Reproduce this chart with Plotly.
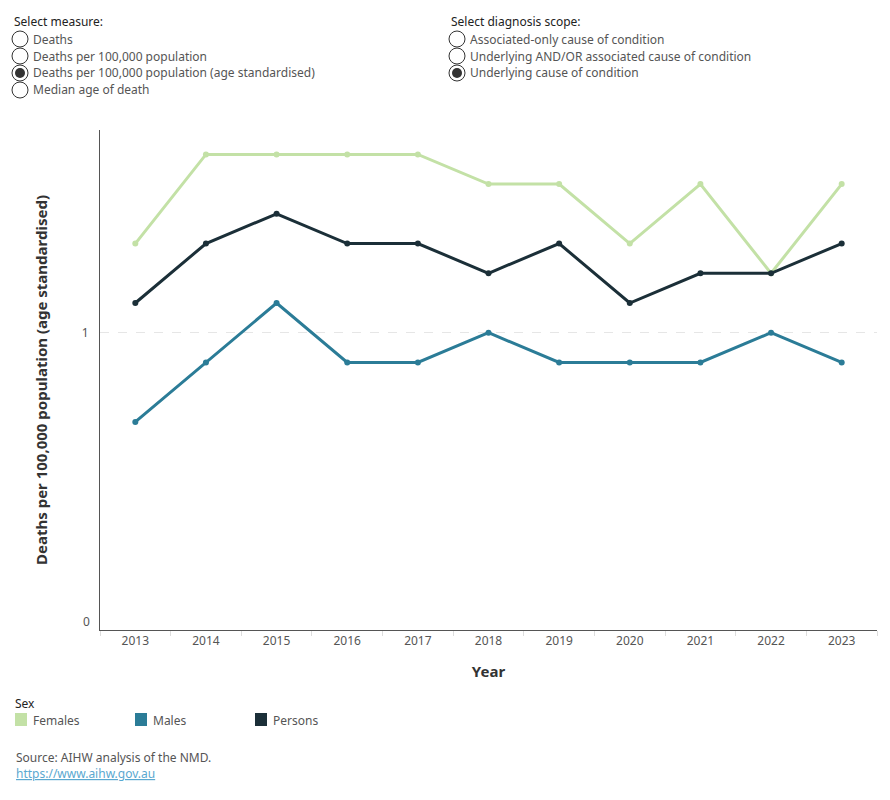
import plotly.graph_objects as go

years = [2013, 2014, 2015, 2016, 2017, 2018, 2019, 2020, 2021, 2022, 2023]
females = [1.3, 1.6, 1.6, 1.6, 1.6, 1.5, 1.5, 1.3, 1.5, 1.2, 1.5]
males = [0.7, 0.9, 1.1, 0.9, 0.9, 1.0, 0.9, 0.9, 0.9, 1.0, 0.9]
persons = [1.1, 1.3, 1.4, 1.3, 1.3, 1.2, 1.3, 1.1, 1.2, 1.2, 1.3]
series_names = ["Females", "Males", "Persons"]
series_colors = ["#c3e1a6", "#2b7c97", "#1b2f38"]
measure_options = ["Deaths", "Deaths per 100,000 population",
                   "Deaths per 100,000 population (age standardised)", "Median age of death"]
scope_options = ["Associated-only cause of condition",
                 "Underlying AND/OR associated cause of condition",
                 "Underlying cause of condition"]

W, H = 890, 800
L, R, T, B = 100, 877, 130, 630
FONT = "Noto Sans"

def px(x):
    return (x - L) / (R - L)

def py(y):
    return (B - y) / (B - T)

fig = go.Figure()
for name, vals, col in zip(series_names, [females, males, persons], series_colors):
    fig.add_trace(go.Scatter(x=years, y=vals, mode="lines+markers", name=name,
                             line=dict(color=col, width=3),
                             marker=dict(color=col, size=6), showlegend=False))

shapes = []
annotations = []

def text(x, y, s, size=12, color="#555", bold=False, xanchor="left"):
    annotations.append(dict(x=px(x), y=py(y), xref="paper", yref="paper", text=(f"<b>{s}</b>" if bold else s),
                            showarrow=False, xanchor=xanchor, yanchor="middle",
                            font=dict(family=FONT, size=size, color=color)))

def radio(cx, cy, selected):
    r = 8
    shapes.append(dict(type="circle", xref="paper", yref="paper",
                       x0=px(cx - r), x1=px(cx + r), y0=py(cy + r), y1=py(cy - r),
                       line=dict(color="#333", width=1), fillcolor="white"))
    if selected:
        r2 = 5
        shapes.append(dict(type="circle", xref="paper", yref="paper",
                           x0=px(cx - r2), x1=px(cx + r2), y0=py(cy + r2), y1=py(cy - r2),
                           line=dict(color="#333", width=0), fillcolor="#333"))

text(12, 21, "Select measure:", color="#222")
for i, opt in enumerate(measure_options):
    y = 39 + i * 17
    radio(20, y, i == 2)
    text(31, y, opt)

text(449, 21, "Select diagnosis scope:", color="#222")
for i, opt in enumerate(scope_options):
    y = 39 + i * 17
    radio(457, y, i == 2)
    text(468, y, opt)

# y-axis "0" label (Tableau nudges the edge label up inside the pane)
text(92, 621, "0", xanchor="right")

# legend
text(13, 703, "Sex", color="#222")
for i, (name, col) in enumerate(zip(series_names, series_colors)):
    x0 = 15 + i * 120
    shapes.append(dict(type="rect", xref="paper", yref="paper",
                       x0=px(x0), x1=px(x0 + 12), y0=py(726), y1=py(713),
                       line=dict(width=0), fillcolor=col))
    text(x0 + 16, 720, name)

text(14, 757, "Source: AIHW analysis of the NMD.")
text(14, 773, "<u>https://www.aihw.gov.au</u>", color="#5aa8d0")

fig.update_layout(
    width=W, height=H, margin=dict(l=L, r=W - R, t=T, b=H - B),
    paper_bgcolor="white", plot_bgcolor="white",
    font=dict(family=FONT, size=12, color="#555"),
    shapes=shapes, annotations=annotations,
    xaxis=dict(range=[2012.5, 2023.5], tickvals=years, ticks="", showgrid=False,
               showline=True, linecolor="#555", linewidth=1, zeroline=False,
               tickfont=dict(size=12, color="#555"),
               minor=dict(tickvals=[y - 0.5 for y in years] + [2023.5], ticks="outside",
                          ticklen=5, tickcolor="#ddd", showgrid=False),
               title=dict(text="<b>Year</b>", font=dict(size=15, color="#333"), standoff=18)),
    yaxis=dict(range=[0, 1.682], tickvals=[1], ticktext=["1"], ticks="",
               showgrid=True, gridcolor="#e6e6e6", griddash="dash", gridwidth=1,
               showline=True, linecolor="#555", linewidth=1, zeroline=False,
               tickfont=dict(size=12, color="#555"), ticklabelstandoff=8,
               title=dict(text="<b>Deaths per 100,000 population (age standardised)</b>",
                          font=dict(size=15, color="#333"), standoff=30)),
)
fig.write_html("out.html")
